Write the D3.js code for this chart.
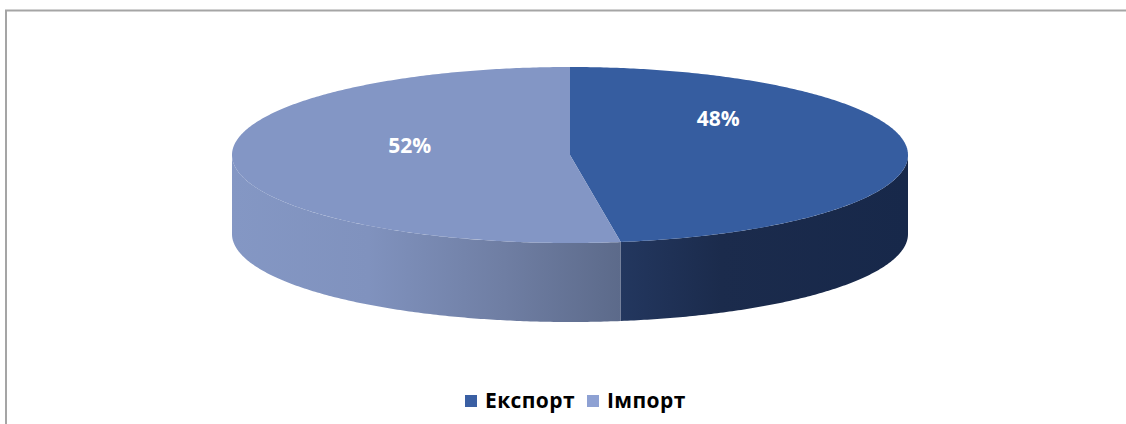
<!DOCTYPE html>
<html>
<head>
<meta charset="utf-8">
<script src="https://cdn.jsdelivr.net/npm/d3@7"></script>
<style>
  body { margin: 0; background: #fff; }
  svg { display: block; font-family: "Open Sans", "Liberation Sans", sans-serif; }
</style>
</head>
<body>
<script>
// data
var categories = ["Експорт", "Імпорт"];
var shares = [47.6, 52.4];
var topColors = ["#365da0", "#8396c5"];
var legendColors = ["#3a5fa3", "#8ea1d3"];

var w = 1126, h = 424;
var cx = 570, cy = 155, rx = 338, ry = 88, depth = 79;

var svg = d3.select("body").append("svg")
  .attr("width", w)
  .attr("height", h);

// chart frame (only top and left edges are visible)
svg.append("rect")
  .attr("x", 6).attr("y", 10.5)
  .attr("width", w + 20).attr("height", h + 20)
  .attr("fill", "none")
  .attr("stroke", "#a5a5a5")
  .attr("stroke-width", 2);

// gradients for the side walls, left to right
var defs = svg.append("defs");
var sideStops = [
  [[0, "#23375f"], [0.35, "#1b2b4c"], [1, "#17284a"]],
  [[0, "#8497c4"], [0.35, "#8092be"], [0.7, "#6f7ea3"], [1, "#5c6a8a"]]
];

// pie layout, start at 12 o'clock, clockwise
var pie = d3.pie().sort(null).value(function(d) { return d; });
var arcs = pie(shares);

function pt(a, dy) {
  return [cx + rx * Math.sin(a), cy - ry * Math.cos(a) + (dy || 0)];
}

function arcPoints(a0, a1, dy) {
  var n = Math.max(2, Math.ceil((a1 - a0) / 0.01));
  var pts = [];
  for (var i = 0; i <= n; i++) {
    pts.push(pt(a0 + (a1 - a0) * i / n, dy));
  }
  return pts;
}

var line = d3.line();

// side walls (front half only: from 3 o'clock to 9 o'clock)
arcs.forEach(function(d, i) {
  var a0 = Math.max(d.startAngle, Math.PI / 2);
  var a1 = Math.min(d.endAngle, 3 * Math.PI / 2);
  if (a1 <= a0) return;
  var top = arcPoints(a0, a1, 0);
  var bottom = arcPoints(a0, a1, depth).reverse();
  var xs = top.map(function(p) { return p[0]; });

  var g = defs.append("linearGradient")
    .attr("id", "side" + i)
    .attr("gradientUnits", "userSpaceOnUse")
    .attr("x1", d3.min(xs)).attr("x2", d3.max(xs))
    .attr("y1", 0).attr("y2", 0);
  sideStops[i].forEach(function(s) {
    g.append("stop").attr("offset", s[0]).attr("stop-color", s[1]);
  });

  svg.append("path")
    .attr("d", line(top.concat(bottom)) + "Z")
    .attr("fill", "url(#side" + i + ")");
});

// top faces
arcs.forEach(function(d, i) {
  var pts = [[cx, cy]].concat(arcPoints(d.startAngle, d.endAngle, 0));
  svg.append("path")
    .attr("d", line(pts) + "Z")
    .attr("fill", topColors[i]);
});

// percentage labels
var labelDy = [-33, -12];
var labelDx = [0, -12];
arcs.forEach(function(d, i) {
  var mid = (d.startAngle + d.endAngle) / 2;
  var p = [cx + 0.44 * rx * Math.sin(mid), cy - 0.44 * ry * Math.cos(mid)];
  svg.append("text")
    .attr("x", p[0] + labelDx[i])
    .attr("y", p[1] + labelDy[i])
    .attr("dy", "0.35em")
    .attr("text-anchor", "middle")
    .attr("fill", "#fff")
    .attr("font-weight", "bold")
    .attr("font-size", 21)
    .text(Math.round(d.value) + "%");
});

// legend
var legendX = [465, 587];
var legend = svg.selectAll(".legend")
  .data(categories)
  .enter().append("g")
  .attr("class", "legend")
  .attr("transform", function(d, i) { return "translate(" + legendX[i] + ",395)"; });

legend.append("rect")
  .attr("width", 12).attr("height", 12)
  .attr("fill", function(d, i) { return legendColors[i]; });

legend.append("text")
  .attr("x", 20)
  .attr("y", 13)
  .attr("font-size", 21)
  .attr("font-weight", "bold")
  .attr("letter-spacing", 0.4)
  .attr("fill", "#000")
  .text(function(d) { return d; });
</script>
</body>
</html>
